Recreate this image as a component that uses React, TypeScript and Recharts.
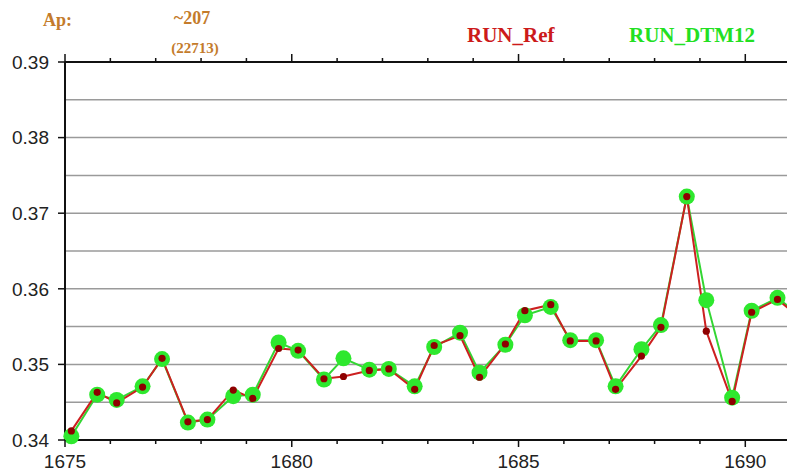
import React from 'react';
import { LineChart, Line, XAxis, YAxis, CartesianGrid } from 'recharts';

// sample times (years)
const times = [
  1675.14, 1675.71, 1676.14, 1676.71, 1677.14, 1677.71, 1678.14, 1678.71,
  1679.14, 1679.71, 1680.14, 1680.71, 1681.14, 1681.71, 1682.14, 1682.71,
  1683.14, 1683.71, 1684.14, 1684.71, 1685.14, 1685.71, 1686.14, 1686.71,
  1687.14, 1687.71, 1688.14, 1688.71, 1689.14, 1689.71, 1690.14, 1690.71,
  1691.14,
];

const runRef = [
  0.3412, 0.3463, 0.3449, 0.347, 0.3508, 0.3424, 0.3427, 0.3466,
  0.3455, 0.3521, 0.3519, 0.3481, 0.3484, 0.3492, 0.3494, 0.3467,
  0.3525, 0.3538, 0.3483, 0.3527, 0.3571, 0.3579, 0.3531, 0.3531,
  0.3467, 0.3511, 0.3549, 0.3722, 0.3544, 0.3451, 0.3569, 0.3586,
  0.3565,
];

const runDtm12 = [
  0.3405, 0.346, 0.3453, 0.3471, 0.3507, 0.3423, 0.3427, 0.3458,
  0.346, 0.3529, 0.3518, 0.348, 0.3508, 0.3493, 0.3494, 0.3471,
  0.3523, 0.3542, 0.3489, 0.3526, 0.3565, 0.3576, 0.3532, 0.3532,
  0.3471, 0.352, 0.3552, 0.3722, 0.3585, 0.3456, 0.3571, 0.3588,
  0.3568,
];

const xTicks = [
  1675, 1676, 1677, 1678, 1679, 1680, 1681, 1682, 1683, 1684, 1685, 1686,
  1687, 1688, 1689, 1690, 1691, 1692,
];
const yTicks = [0.34, 0.345, 0.35, 0.355, 0.36, 0.365, 0.37, 0.375, 0.38, 0.385, 0.39];

const data = times.map((t, i) => ({ t, ref: runRef[i], dtm: runDtm12[i] }));

const AXIS_FONT = '"Liberation Sans", Arial, Helvetica, sans-serif';
const TITLE_FONT = '"Liberation Serif", "Times New Roman", serif';

const BottomTick = (props: any) => {
  const { x, y, payload } = props;
  const major = payload.value % 5 === 0;
  return (
    <g>
      <line x1={x} y1={y} x2={x} y2={y + (major ? 7 : 4)} stroke="#111" strokeWidth={1.5} />
      {major && (
        <text x={x} y={y + 28} textAnchor="middle" fontSize={19} fill="#222" fontFamily={AXIS_FONT}>
          {payload.value}
        </text>
      )}
    </g>
  );
};

const TopTick = (props: any) => {
  const { x, y, payload } = props;
  const major = payload.value % 5 === 0;
  return <line x1={x} y1={y} x2={x} y2={y - (major ? 8 : 4)} stroke="#111" strokeWidth={1.5} />;
};

const LeftTick = (props: any) => {
  const { x, y, payload } = props;
  const v = payload.value * 100;
  if (Math.abs(v - Math.round(v)) > 1e-6) return <g />;
  return (
    <g>
      <line x1={x - 7} y1={y} x2={x} y2={y} stroke="#111" strokeWidth={1.5} />
      <text x={x - 16} y={y} dy="0.36em" textAnchor="end" fontSize={19} fill="#222" fontFamily={AXIS_FONT}>
        {payload.value.toFixed(2)}
      </text>
    </g>
  );
};

const App = () => {
  return (
    <div
      style={{
        position: 'absolute',
        left: 0,
        top: 0,
        width: 787,
        height: 472,
        overflow: 'hidden',
        background: '#fff',
      }}
    >
      <LineChart width={836} height={472} data={data} margin={{ top: 52, right: 0, bottom: 0, left: 0 }}>
        <CartesianGrid vertical={false} stroke="#9a9a9a" strokeWidth={1.5} />
        <XAxis
          dataKey="t"
          type="number"
          domain={[1675, 1692]}
          ticks={xTicks}
          interval={0}
          height={32}
          tickSize={0}
          tickMargin={0}
          tickLine={false}
          tick={<BottomTick />}
          axisLine={{ stroke: '#111', strokeWidth: 2 }}
        />
        <XAxis
          xAxisId="top"
          orientation="top"
          dataKey="t"
          type="number"
          domain={[1675, 1692]}
          ticks={xTicks}
          interval={0}
          height={10}
          tickSize={0}
          tickMargin={0}
          tickLine={false}
          tick={<TopTick />}
          axisLine={{ stroke: '#111', strokeWidth: 2 }}
        />
        <YAxis
          type="number"
          domain={[0.34, 0.39]}
          ticks={yTicks}
          interval={0}
          width={65}
          tickSize={0}
          tickMargin={0}
          tickLine={false}
          tick={<LeftTick />}
          axisLine={{ stroke: '#111', strokeWidth: 2 }}
        />
        <Line
          type="linear"
          dataKey="dtm"
          stroke="#33d633"
          strokeWidth={2}
          dot={{ r: 8, fill: '#2ee82e', stroke: 'none', strokeWidth: 0 }}
          activeDot={false}
          isAnimationActive={false}
        />
        <Line
          type="linear"
          dataKey="ref"
          stroke="#cc2020"
          strokeWidth={2}
          dot={{ r: 3.6, fill: '#8e0000', stroke: 'none', strokeWidth: 0 }}
          activeDot={false}
          isAnimationActive={false}
        />
      </LineChart>

      {/* header labels */}
      <svg width={787} height={60} style={{ position: 'absolute', left: 0, top: 0, pointerEvents: 'none' }}>
        <text x={43} y={26} fontSize={18} fontWeight="bold" fill="#c47b2b" fontFamily={TITLE_FONT}>
          Ap:
        </text>
        <text x={192} y={24} fontSize={18} fontWeight="bold" fill="#c47b2b" fontFamily={TITLE_FONT} textAnchor="middle">
          ~207
        </text>
        <text x={195} y={53} fontSize={15} fontWeight="bold" fill="#c47b2b" fontFamily={TITLE_FONT} textAnchor="middle">
          (22713)
        </text>
        <text x={467} y={42} fontSize={21} fontWeight="bold" fill="#cc1a1a" fontFamily={TITLE_FONT}>
          RUN_Ref
        </text>
        <text x={629} y={42} fontSize={21} fontWeight="bold" fill="#22e022" fontFamily={TITLE_FONT}>
          RUN_DTM12
        </text>
      </svg>
    </div>
  );
};

export default App;
